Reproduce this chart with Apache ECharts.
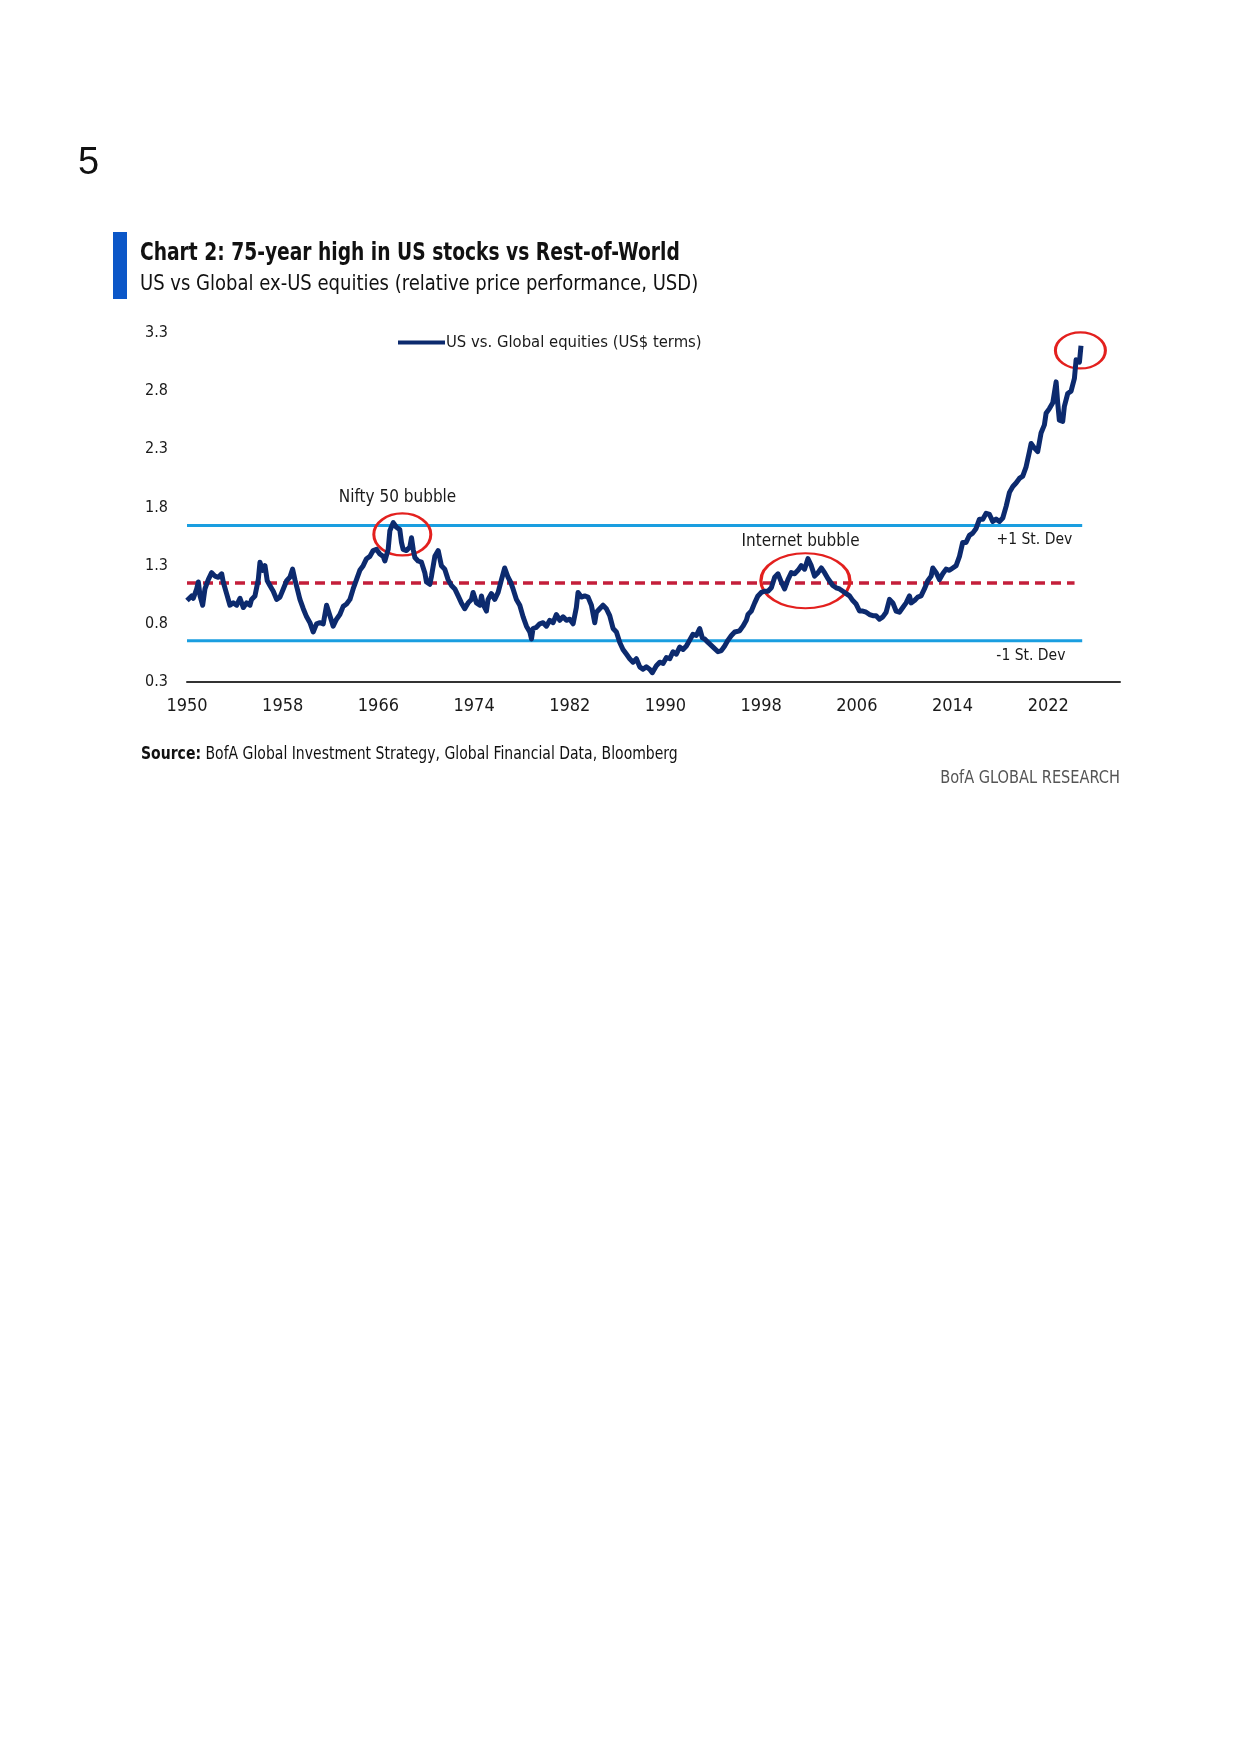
<!DOCTYPE html>
<html>
<head>
<meta charset="utf-8">
<script src="https://cdn.jsdelivr.net/npm/echarts@6/dist/echarts.min.js"></script>
<style>
  html, body { margin: 0; padding: 0; background: #ffffff; }
  #chart { width: 1241px; height: 1754px; }
</style>
</head>
<body>
<div id="chart"></div>
<script>
// ---- Data ----
const seriesName = 'US vs. Global equities (US$ terms)';
const years = [
  1950.0, 1950.11, 1950.39, 1950.53, 1950.81, 1950.95, 1951.09, 1951.31, 1951.50, 1951.78,
  1952.06, 1952.34, 1952.62, 1952.90, 1953.03, 1953.31, 1953.59, 1953.87, 1954.15, 1954.43,
  1954.71, 1954.98, 1955.26, 1955.40, 1955.68, 1955.96, 1956.10, 1956.32, 1956.52, 1956.71,
  1956.93, 1957.21, 1957.49, 1957.77, 1958.05, 1958.33, 1958.60, 1958.83, 1959.02, 1959.22,
  1959.44, 1959.72, 1960.00, 1960.28, 1960.55, 1960.83, 1961.11, 1961.39, 1961.67, 1961.95,
  1962.22, 1962.50, 1962.78, 1963.06, 1963.34, 1963.62, 1963.89, 1964.17, 1964.45, 1964.73,
  1965.01, 1965.29, 1965.56, 1965.84, 1966.12, 1966.40, 1966.54, 1966.82, 1966.96, 1967.24,
  1967.51, 1967.79, 1967.93, 1968.07, 1968.35, 1968.63, 1968.77, 1968.91, 1969.05, 1969.32,
  1969.60, 1969.88, 1970.02, 1970.30, 1970.44, 1970.72, 1971.00, 1971.27, 1971.55, 1971.83,
  1972.11, 1972.39, 1972.67, 1972.94, 1973.22, 1973.50, 1973.78, 1973.92, 1974.20, 1974.48,
  1974.62, 1974.75, 1975.03, 1975.17, 1975.45, 1975.73, 1976.01, 1976.29, 1976.56, 1976.84,
  1977.05, 1977.26, 1977.54, 1977.82, 1978.10, 1978.38, 1978.66, 1978.80, 1978.93, 1979.21,
  1979.49, 1979.77, 1980.05, 1980.33, 1980.61, 1980.88, 1981.16, 1981.44, 1981.72, 1982.00,
  1982.28, 1982.55, 1982.69, 1982.97, 1983.25, 1983.53, 1983.81, 1984.09, 1984.23, 1984.50,
  1984.78, 1985.06, 1985.34, 1985.62, 1985.90, 1986.18, 1986.45, 1986.73, 1987.01, 1987.29,
  1987.57, 1987.85, 1988.12, 1988.40, 1988.68, 1988.90, 1989.24, 1989.52, 1989.80, 1990.08,
  1990.36, 1990.63, 1990.91, 1991.19, 1991.47, 1991.75, 1992.03, 1992.30, 1992.58, 1992.86,
  1993.08, 1993.28, 1993.56, 1993.98, 1994.39, 1994.67, 1994.95, 1995.23, 1995.51, 1995.79,
  1996.20, 1996.48, 1996.76, 1996.90, 1997.18, 1997.46, 1997.73, 1998.01, 1998.29, 1998.57,
  1998.85, 1999.13, 1999.41, 1999.68, 1999.96, 2000.24, 2000.52, 2000.80, 2001.08, 2001.35,
  2001.63, 2001.91, 2002.19, 2002.47, 2002.75, 2003.03, 2003.30, 2003.58, 2003.99, 2004.27,
  2004.55, 2004.83, 2005.11, 2005.39, 2005.66, 2005.94, 2006.22, 2006.50, 2006.78, 2007.06,
  2007.34, 2007.61, 2007.89, 2008.17, 2008.45, 2008.73, 2009.01, 2009.28, 2009.56, 2009.84,
  2010.12, 2010.40, 2010.54, 2010.82, 2011.09, 2011.37, 2011.65, 2011.93, 2012.21, 2012.35,
  2012.63, 2012.91, 2013.18, 2013.46, 2013.74, 2014.02, 2014.30, 2014.58, 2014.85, 2015.13,
  2015.41, 2015.69, 2015.97, 2016.25, 2016.53, 2016.81, 2017.09, 2017.36, 2017.64, 2017.92,
  2018.20, 2018.48, 2018.76, 2019.04, 2019.31, 2019.59, 2019.87, 2020.15, 2020.43, 2020.57,
  2020.85, 2021.12, 2021.40, 2021.68, 2021.82, 2022.10, 2022.38, 2022.66, 2022.79, 2022.93,
  2023.21, 2023.35, 2023.63, 2023.91, 2024.19, 2024.33, 2024.61, 2024.74
];
const values = [
  1.00, 1.01, 1.04, 1.02, 1.10, 1.16, 1.04, 0.96, 1.10, 1.18,
  1.24, 1.21, 1.20, 1.23, 1.16, 1.06, 0.96, 0.98, 0.96, 1.02,
  0.94, 0.98, 0.96, 1.01, 1.04, 1.18, 1.33, 1.26, 1.30, 1.17,
  1.13, 1.08, 1.01, 1.03, 1.10, 1.17, 1.20, 1.27, 1.18, 1.10,
  1.01, 0.93, 0.86, 0.81, 0.73, 0.80, 0.81, 0.80, 0.96, 0.87,
  0.78, 0.84, 0.88, 0.95, 0.97, 1.01, 1.10, 1.18, 1.26, 1.30,
  1.36, 1.38, 1.43, 1.44, 1.40, 1.38, 1.34, 1.44, 1.60, 1.67,
  1.63, 1.61, 1.50, 1.44, 1.43, 1.46, 1.54, 1.44, 1.37, 1.34,
  1.33, 1.24, 1.16, 1.14, 1.21, 1.38, 1.43, 1.30, 1.27, 1.18,
  1.13, 1.10, 1.04, 0.98, 0.93, 0.98, 1.01, 1.07, 0.98, 0.96,
  1.04, 0.97, 0.91, 1.01, 1.06, 1.01, 1.07, 1.18, 1.28, 1.20,
  1.16, 1.10, 1.01, 0.96, 0.86, 0.78, 0.73, 0.67, 0.76, 0.77,
  0.80, 0.81, 0.78, 0.83, 0.81, 0.88, 0.83, 0.86, 0.83, 0.84,
  0.80, 0.94, 1.07, 1.03, 1.04, 1.03, 0.96, 0.81, 0.90, 0.93,
  0.96, 0.93, 0.87, 0.76, 0.73, 0.64, 0.58, 0.54, 0.50, 0.47,
  0.50, 0.43, 0.41, 0.43, 0.41, 0.38, 0.44, 0.47, 0.46, 0.51,
  0.50, 0.56, 0.54, 0.60, 0.58, 0.61, 0.66, 0.71, 0.70, 0.76,
  0.68, 0.67, 0.64, 0.60, 0.56, 0.57, 0.61, 0.66, 0.70, 0.73,
  0.74, 0.78, 0.83, 0.88, 0.91, 0.98, 1.04, 1.07, 1.08, 1.08,
  1.11, 1.20, 1.23, 1.16, 1.10, 1.18, 1.24, 1.23, 1.26, 1.30,
  1.27, 1.36, 1.30, 1.21, 1.24, 1.28, 1.24, 1.19, 1.13, 1.11,
  1.10, 1.08, 1.06, 1.04, 1.00, 0.97, 0.91, 0.91, 0.90, 0.88,
  0.87, 0.87, 0.84, 0.86, 0.90, 1.01, 0.98, 0.91, 0.90, 0.94,
  0.98, 1.04, 0.98, 1.00, 1.03, 1.04, 1.10, 1.17, 1.21, 1.28,
  1.24, 1.18, 1.23, 1.27, 1.26, 1.28, 1.30, 1.38, 1.50, 1.50,
  1.56, 1.58, 1.62, 1.70, 1.70, 1.75, 1.74, 1.68, 1.70, 1.68,
  1.71, 1.81, 1.93, 1.98, 2.01, 2.05, 2.07, 2.15, 2.28, 2.35,
  2.31, 2.28, 2.44, 2.51, 2.61, 2.65, 2.70, 2.88, 2.70, 2.55,
  2.54, 2.67, 2.78, 2.80, 2.91, 3.07, 3.05, 3.19
];
const meanValue = 1.15;
const plusOneSD = 1.645;
const minusOneSD = 0.655;
const bandYears = [1950, 2024.84];
const meanYears = [1950, 2024.2];
const yTicks = [0.3, 0.8, 1.3, 1.8, 2.3, 2.8, 3.3];
const xTickYears = [1950, 1958, 1966, 1974, 1982, 1990, 1998, 2006, 2014, 2022];

const titleText = 'Chart 2: 75-year high in US stocks vs Rest-of-World';
const subtitleText = 'US vs Global ex-US equities (relative price performance, USD)';
const sourceLabel = 'Source:';
const sourceText = ' BofA Global Investment Strategy, Global Financial Data, Bloomberg';
const brandText = 'BofA GLOBAL RESEARCH';
const pageNumber = '5';

// ---- Build chart ----
const FONT = "'Liberation Sans Narrow', 'DejaVu Sans Condensed', 'Roboto', sans-serif";
const NAVY = '#0c2a6e';
const mainData = years.map((y, i) => [y, values[i]]);

const chart = echarts.init(document.getElementById('chart'), null, { renderer: 'canvas' });

const ellipseStyle = { color: 'rgba(0,0,0,0)', borderColor: '#e3201e', borderWidth: 2.6 };
const noteLabel = (txt, size) => ({
  show: true, position: 'inside', formatter: txt,
  color: '#1a1a1a', fontSize: size, fontFamily: FONT
});

const option = {
  backgroundColor: '#ffffff',
  animation: false,
  grid: { left: 187, right: 121, top: 333, bottom: 1072, containLabel: false },
  legend: {
    data: [{ name: seriesName, icon: 'rect' }],
    left: 398, top: 334, padding: 0,
    itemWidth: 47, itemHeight: 4, itemGap: 10,
    textStyle: { fontSize: 16.5, color: '#1a1a1a', fontFamily: FONT, padding: [0, 0, 0, -4] }
  },
  xAxis: {
    type: 'value', min: 1950, max: 2028, interval: 8,
    axisLine: { show: true, onZero: false, lineStyle: { color: '#333333', width: 2 } },
    axisTick: { show: false },
    splitLine: { show: false },
    axisLabel: {
      margin: 15, fontSize: 18, color: '#1a1a1a', fontFamily: FONT,
      formatter: (v) => xTickYears.indexOf(Math.round(v)) >= 0 ? String(Math.round(v)) : ''
    }
  },
  yAxis: {
    type: 'value', min: 0.3, max: 3.3, interval: 0.5,
    axisLine: { show: false }, axisTick: { show: false }, splitLine: { show: false },
    axisLabel: {
      margin: 19, fontSize: 16, color: '#1a1a1a', fontFamily: FONT,
      formatter: (v) => {
        const r = Math.round(v * 10) / 10;
        return yTicks.indexOf(r) >= 0 ? r.toFixed(1) : '';
      }
    }
  },
  series: [
    {
      name: '+1 St. Dev', type: 'line', silent: true, symbol: 'none', z: 2,
      data: bandYears.map(y => [y, plusOneSD]),
      lineStyle: { color: '#1a9ee0', width: 3 }
    },
    {
      name: '-1 St. Dev', type: 'line', silent: true, symbol: 'none', z: 2,
      data: bandYears.map(y => [y, minusOneSD]),
      lineStyle: { color: '#1a9ee0', width: 3 }
    },
    {
      name: 'Mean', type: 'line', silent: true, symbol: 'none', z: 2,
      data: meanYears.map(y => [y, meanValue]),
      lineStyle: { color: '#c41e3a', width: 3.5, type: [10, 6] }
    },
    {
      name: seriesName, type: 'line', symbol: 'none', z: 5,
      color: NAVY,
      data: mainData,
      lineStyle: { color: NAVY, width: 5, join: 'round' },
      markPoint: {
        silent: true,
        symbol: 'circle',
        data: [
          { coord: [1968.0, 1.568], symbolSize: [57, 42], itemStyle: ellipseStyle, label: { show: false } },
          { coord: [2001.7, 1.17], symbolSize: [89, 55], itemStyle: ellipseStyle, label: { show: false } },
          { coord: [2024.69, 3.15], symbolSize: [50, 36], itemStyle: ellipseStyle, label: { show: false } },
          { coord: [1967.6, 1.885], symbolSize: 1, itemStyle: { color: 'rgba(0,0,0,0)' }, label: noteLabel('Nifty 50 bubble', 17) },
          { coord: [2001.3, 1.508], symbolSize: 1, itemStyle: { color: 'rgba(0,0,0,0)' }, label: noteLabel('Internet bubble', 17) },
          { coord: [2020.84, 1.525], symbolSize: 1, itemStyle: { color: 'rgba(0,0,0,0)' }, label: noteLabel('+1 St. Dev', 15.5) },
          { coord: [2020.55, 0.523], symbolSize: 1, itemStyle: { color: 'rgba(0,0,0,0)' }, label: noteLabel('-1 St. Dev', 15.5) }
        ]
      }
    }
  ],
  graphic: [
    { type: 'text', left: 78, top: 145, style: { text: pageNumber, font: "38px 'Liberation Sans', Arial, sans-serif", fill: '#111111' } },
    { type: 'rect', shape: { x: 113, y: 232, width: 14, height: 67 }, style: { fill: '#0b57c8' } },
    { type: 'text', x: 140, y: 253, scaleX: 0.83, style: { text: titleText, font: "bold 25px " + FONT, fill: '#111111', verticalAlign: 'middle', align: 'left' } },
    { type: 'text', x: 140, y: 284, scaleX: 0.91, style: { text: subtitleText, font: "22px " + FONT, fill: '#111111', verticalAlign: 'middle', align: 'left' } },
    { type: 'text', x: 141, y: 754, scaleX: 0.865, style: {
        text: '{b|' + sourceLabel + '}{r|' + sourceText + '}',
        verticalAlign: 'middle', align: 'left',
        rich: {
          b: { font: "bold 18px " + FONT, fill: '#111111' },
          r: { font: "18px " + FONT, fill: '#111111' }
        }
    } },
    { type: 'text', x: 1120, y: 778, scaleX: 0.9, style: { text: brandText, font: "18px " + FONT, fill: '#555555', verticalAlign: 'middle', align: 'right' } }
  ]
};

chart.setOption(option);
</script>
</body>
</html>
